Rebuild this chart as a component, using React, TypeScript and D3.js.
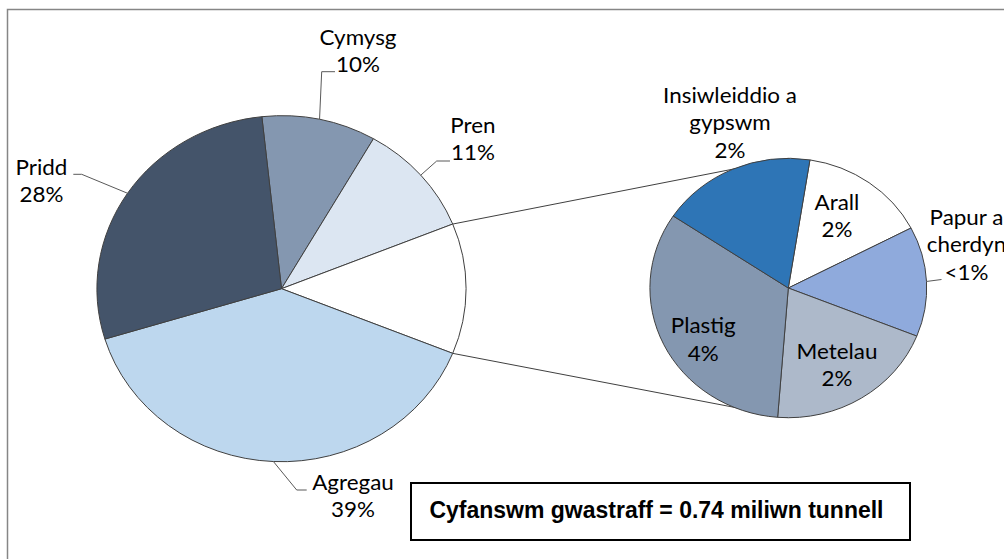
import * as d3 from "d3";

// the source picture is stretched a bit horizontally, so everything is drawn
// in an unstretched space and scaled by SX on x
const SX = 1.067;

const mainCategories = ["Cymysg", "Pren", "Agregau", "Pridd"];
const mainValues = [10.0, 10.6, 39.2, 28.0];
const mainLabels = ["10%", "11%", "39%", "28%"];
const mainColors = ["#8497b0", "#dce6f2", "#bdd7ee", "#44546a"];

const subCategories = ["Arall", "Papur a\ncherdyn", "Metelau", "Plastig", "Insiwleiddio a\ngypswm"];
const subValues = [1.81, 1.67, 2.46, 4.04, 2.21];
const subLabels = ["2%", "<1%", "2%", "4%", "2%"];
const subColors = ["#ffffff", "#8faadc", "#adb9ca", "#8497b0", "#2e75b6"];

const totalText = "Cyfanswm gwastraff = 0.74 miliwn tunnell";

// layout, in picture pixels
const W = 1004;
const H = 559;
const mainC = { x: 281.5, y: 288.7, r: 173 };
const subC = { x: 788.3, y: 288, r: 129.7 };
const subStart = (9 * Math.PI) / 180;
const lineH = 27.5;

// label anchors: centre x, first baseline, optional leader points (elbow..end)
const mainLabelPos = [
  { x: 358, y: 45, leader: [[321.7, 71.7], [335, 71.7]] },
  { x: 473, y: 133, leader: [[436.7, 161], [450, 161]] },
  { x: 353, y: 490, leader: [[296.7, 490], [306.7, 490]] },
  { x: 41.5, y: 175, leader: [[81.7, 174.3], [73.3, 174.3]] },
];
const subLabelPos = [
  { x: 837, y: 210, leader: null },
  { x: 966.5, y: 225, leader: [[941.5, 279.5]] },
  { x: 837, y: 359, leader: null },
  { x: 703.3, y: 333.3, leader: null },
  { x: 730, y: 103, leader: null },
];

const labelFont = "Lato, 'Open Sans', sans-serif";

type Slice = { name: string; value: number; color: string; label: string | null; idx: number };

function edgePoint(cx: number, cy: number, r: number, a: number): [number, number] {
  return [cx / SX + r * Math.sin(a), cy - r * Math.cos(a)];
}

export default function App() {
  const otherValue = d3.sum(subValues);

  // main pie order going clockwise: Cymysg, Pren, (other), Agregau, Pridd
  const mainSlices: Slice[] = [
    { name: mainCategories[0], value: mainValues[0], color: mainColors[0], label: mainLabels[0], idx: 0 },
    { name: mainCategories[1], value: mainValues[1], color: mainColors[1], label: mainLabels[1], idx: 1 },
    { name: "other", value: otherValue, color: "#ffffff", label: null, idx: -1 },
    { name: mainCategories[2], value: mainValues[2], color: mainColors[2], label: mainLabels[2], idx: 2 },
    { name: mainCategories[3], value: mainValues[3], color: mainColors[3], label: mainLabels[3], idx: 3 },
  ];
  const total = d3.sum(mainSlices, (d) => d.value);
  // the "other" slice is centred on 3 o'clock
  const mainStart =
    Math.PI / 2 - ((mainValues[0] + mainValues[1] + otherValue / 2) / total) * 2 * Math.PI;

  const mainPie = d3
    .pie<Slice>()
    .sort(null)
    .value((d) => d.value)
    .startAngle(mainStart)
    .endAngle(mainStart + 2 * Math.PI);
  const mainArcs = mainPie(mainSlices);
  const mainArc = d3.arc<d3.PieArcDatum<Slice>>().innerRadius(0).outerRadius(mainC.r);

  const subSlices: Slice[] = subCategories.map((name, i) => ({
    name,
    value: subValues[i],
    color: subColors[i],
    label: subLabels[i],
    idx: i,
  }));
  const subPie = d3
    .pie<Slice>()
    .sort(null)
    .value((d) => d.value)
    .startAngle(subStart)
    .endAngle(subStart + 2 * Math.PI);
  const subArcs = subPie(subSlices);
  const subArc = d3.arc<d3.PieArcDatum<Slice>>().innerRadius(0).outerRadius(subC.r);

  const other = mainArcs[2];
  const p0 = edgePoint(mainC.x, mainC.y, mainC.r, other.startAngle);
  const p1 = edgePoint(mainC.x, mainC.y, mainC.r, other.endAngle);
  const subTop: [number, number] = [subC.x / SX, subC.y - subC.r];
  const subBottom: [number, number] = [subC.x / SX, subC.y + subC.r];

  const line = d3.line();

  const leaderPath = (start: [number, number], pts: number[][]) =>
    line([start, ...pts.map((p) => [p[0] / SX, p[1]] as [number, number])]) ?? "";

  const textBlock = (lines: string[], x: number, y: number, key: string) => (
    <text
      key={key}
      x={x / SX}
      y={y}
      textAnchor="middle"
      fontFamily={labelFont}
      fontSize={21}
      fill="#000"
    >
      {lines.map((t, j) => (
        <tspan key={j} x={x / SX} y={y + j * lineH}>
          {t}
        </tspan>
      ))}
    </text>
  );

  return (
    <div style={{ position: "fixed", left: 0, top: 0, width: W, height: H, overflow: "hidden", background: "#fff" }}>
      <svg width={W} height={H} style={{ display: "block" }}>
        <g transform={`scale(${SX},1)`}>
          {/* chart frame, cropped at right and bottom */}
          <rect
            x={7.5 / SX}
            y={9.5}
            width={W}
            height={H}
            fill="#fff"
            stroke="#868686"
            strokeWidth={1.5}
            vectorEffect="non-scaling-stroke"
          />

          {/* series lines between the pies */}
          <path d={line([p0, subTop]) ?? ""} stroke="#404040" fill="none" vectorEffect="non-scaling-stroke" />
          <path d={line([p1, subBottom]) ?? ""} stroke="#404040" fill="none" vectorEffect="non-scaling-stroke" />

          <g transform={`translate(${mainC.x / SX},${mainC.y})`}>
            {mainArcs.map((a, i) => (
              <path
                key={i}
                d={mainArc(a) ?? ""}
                fill={a.data.color}
                stroke="#404040"
                strokeWidth={1}
                strokeLinejoin="round"
                vectorEffect="non-scaling-stroke"
              />
            ))}
          </g>

          <g transform={`translate(${subC.x / SX},${subC.y})`}>
            {subArcs.map((a, i) => (
              <path
                key={i}
                d={subArc(a) ?? ""}
                fill={a.data.color}
                stroke="#404040"
                strokeWidth={1}
                strokeLinejoin="round"
                vectorEffect="non-scaling-stroke"
              />
            ))}
          </g>

          {/* main labels with leaders */}
          {mainArcs
            .filter((a) => a.data.idx >= 0)
            .map((a) => {
              const pos = mainLabelPos[a.data.idx];
              const mid = (a.startAngle + a.endAngle) / 2;
              const start = edgePoint(mainC.x, mainC.y, mainC.r, mid);
              return (
                <g key={a.data.name}>
                  <path
                    d={leaderPath(start, pos.leader)}
                    stroke="#595959"
                    fill="none"
                    vectorEffect="non-scaling-stroke"
                  />
                  {textBlock([a.data.name, a.data.label ?? ""], pos.x, pos.y, "t")}
                </g>
              );
            })}

          {/* secondary labels */}
          {subArcs.map((a) => {
            const pos = subLabelPos[a.data.idx];
            const mid = (a.startAngle + a.endAngle) / 2;
            const start = edgePoint(subC.x, subC.y, subC.r, mid);
            return (
              <g key={a.data.name}>
                {pos.leader && (
                  <path
                    d={leaderPath(start, pos.leader)}
                    stroke="#595959"
                    fill="none"
                    vectorEffect="non-scaling-stroke"
                  />
                )}
                {textBlock([...a.data.name.split("\n"), a.data.label ?? ""], pos.x, pos.y, "t")}
              </g>
            );
          })}

          {/* total box */}
          <rect
            x={411 / SX}
            y={483}
            width={499 / SX}
            height={57}
            fill="#fff"
            stroke="#000"
            strokeWidth={2}
            vectorEffect="non-scaling-stroke"
          />
          <text
            x={429.5 / SX}
            y={518}
            fontFamily="'Liberation Sans', Arial, sans-serif"
            fontWeight="bold"
            fontSize={23}
            textLength={454 / SX}
            lengthAdjust="spacingAndGlyphs"
            fill="#000"
          >
            {totalText}
          </text>
        </g>
      </svg>
    </div>
  );
}
